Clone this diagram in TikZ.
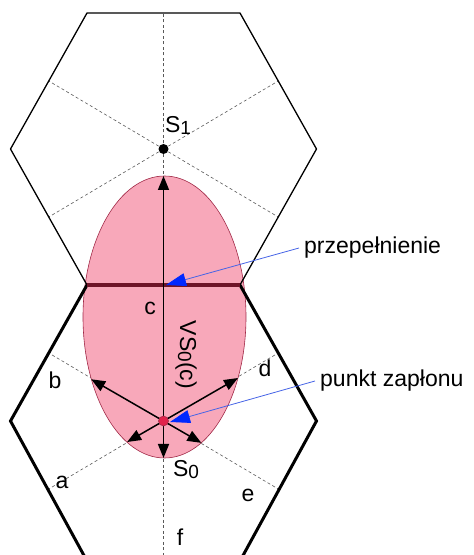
\documentclass[tikz,border=0pt]{standalone}
\usepackage{fontspec}
\setmainfont{Liberation Sans}
\usetikzlibrary{arrows.meta,calc}
\definecolor{flamefill}{RGB}{248,168,186}
\definecolor{flameline}{RGB}{160,40,70}
\definecolor{seamred}{RGB}{110,20,40}
\definecolor{sparkred}{RGB}{225,35,75}
\definecolor{callblue}{RGB}{70,100,230}
\definecolor{headblue}{RGB}{0,40,255}
\newcommand{\subdig}[1]{\raisebox{-2pt}{\fontsize{19}{20}\selectfont #1}}
\tikzset{
  cellthin/.style={line width=1.3pt},
  cellthick/.style={line width=3pt},
  apothem/.style={gray!70!black, line width=0.6pt, dash pattern=on 3pt off 2.5pt},
  vec/.style={line width=1.5pt, -{Triangle[length=14pt,width=11pt]}},
  callout/.style={callblue, line width=0.8pt, -{Triangle[length=20pt,width=13pt,color=headblue]}},
  lbl/.style={font=\fontsize{23}{26}\selectfont, inner sep=1pt},
}

\begin{document}
\begin{tikzpicture}[x=1pt,y=1pt]
    \useasboundingbox (0,0) rectangle (474,555);

    % Cell centres
    \coordinate (S1) at (163.5,406);
    \coordinate (S0) at (163.5,134);

    % Apothems of both cells
    \foreach \dx/\dy in {0/136, 0/-140, 114.75/68, -114.75/68, 114.75/-68, -114.75/-68} {
        \draw[apothem] (S1) -- ++(\dx,\dy);
        \draw[apothem] (S0) -- ++(\dx,\dy);
    }

    % Flame front
    \draw[fill=flamefill, draw=flameline, line width=0.6pt] (164.5,238) ellipse [x radius=81.5, y radius=141];

    % Hexagonal cells
    \draw[cellthin] ($(S1)+(-153,0)$) -- ++(76.5,136) -- ++(153,0) -- ++(76.5,-136) -- ++(-76.5,-136) -- ++(-153,0) -- cycle;
    \draw[cellthick, line join=miter] ($(S0)+(-76.5,-140)$) -- ($(S0)+(-153,0)$) -- ($(S0)+(-76.5,136)$);
    \draw[cellthick, line join=miter] ($(S0)+(76.5,-140)$) -- ($(S0)+(153,0)$) -- ($(S0)+(76.5,136)$);

    % Overflowed edge
    \coordinate (seamL) at ($(S0)+(-76.5,136)$);
    \coordinate (seamR) at ($(S0)+(76.5,136)$);
    \draw[seamred, line width=4pt] (seamL) -- (seamR);

    % Spread vectors
    \foreach \ang/\len in {90/245, 270/37, 30/86, 150/83.5, 210/42, 330/43.7}
        \draw[vec] (S0) -- ++(\ang:\len);

    % Centres
    \fill (S1) circle (5);
    \filldraw[fill=sparkred, draw=flameline, line width=0.6pt] (S0) circle (5);

    % Labels
    \node[lbl] (s1lbl) at (178,430) {S\subdig{1}};
    \node[lbl] (s0lbl) at (186,85) {S\subdig{0}};
    \node[lbl] (clbl) at (150,247) {c};
    \node[lbl, rotate=-90] (vlbl) at (186,200) {VS\subdig{0}(c)};
    \node[lbl] (blbl) at (55,175) {b};
    \node[lbl] (dlbl) at (265,187) {d};
    \node[lbl] (albl) at (62,73) {a};
    \node[lbl] (elbl) at (248,60) {e};
    \node[lbl] (flbl) at (180,18) {f};

    % Callouts
    \node[lbl, anchor=west, inner sep=5pt] (overflow) at (299,307) {przepełnienie};
    \node[lbl, anchor=west, inner sep=5pt] (ignition) at (315,174) {punkt zapłonu};
    \coordinate (seamtip) at ($(S0)+(2.5,136)$);
    \coordinate (sparktip) at ($(S0)+(6.5,-1)$);
    \draw[callout] (overflow.west) -- (seamtip);
    \draw[callout] (ignition.west) -- (sparktip);
\end{tikzpicture}
\end{document}
